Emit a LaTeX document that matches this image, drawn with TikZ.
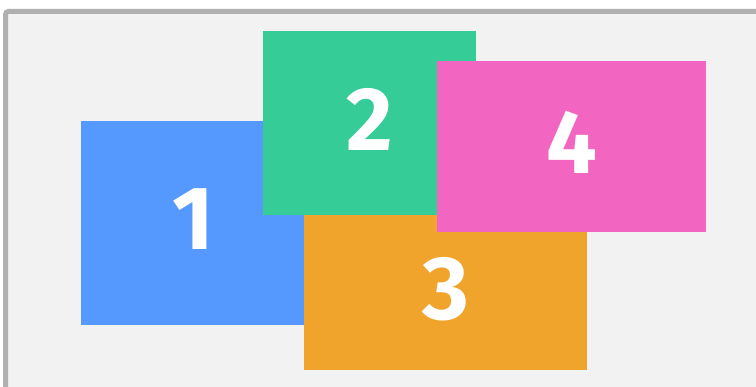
\documentclass[tikz,border=0pt]{standalone}
\usepackage{fontspec}
\setmainfont{Fira Sans}
\definecolor{framegray}{HTML}{B0B0B0}
\definecolor{panelbg}{HTML}{F2F2F2}
\definecolor{tileblue}{HTML}{5598FE}
\definecolor{tilegreen}{HTML}{35CC98}
\definecolor{tileorange}{HTML}{F0A42C}
\definecolor{tilepink}{HTML}{F266C2}
\tikzset{
  tile/.style={anchor=north west, inner sep=0pt, text=white, text depth=8pt,
    font=\fontsize{90}{90}\selectfont\bfseries}
}
\begin{document}
\begin{tikzpicture}[x=1pt,y=-1pt]
        \useasboundingbox (0,0) rectangle (756,387);
        \clip (0,0) rectangle (756,387);
        % panel
        \draw[framegray, line width=5pt, fill=panelbg, rounded corners=3pt]
            (5.5,11.5) rectangle (780,410);
        % tiles, back to front
        \node[tile, fill=tileblue, minimum width=224pt, minimum height=204pt] (box1) at (81,121) {1};
        \node[tile, fill=tileorange, minimum width=283pt, minimum height=155pt] (box3) at (304,215) {3};
        \node[tile, fill=tilegreen, minimum width=213pt, minimum height=184pt] (box2) at (263,31) {2};
        \node[tile, fill=tilepink, minimum width=269pt, minimum height=171pt] (box4) at (437,61) {4};
    \end{tikzpicture}
\end{document}
